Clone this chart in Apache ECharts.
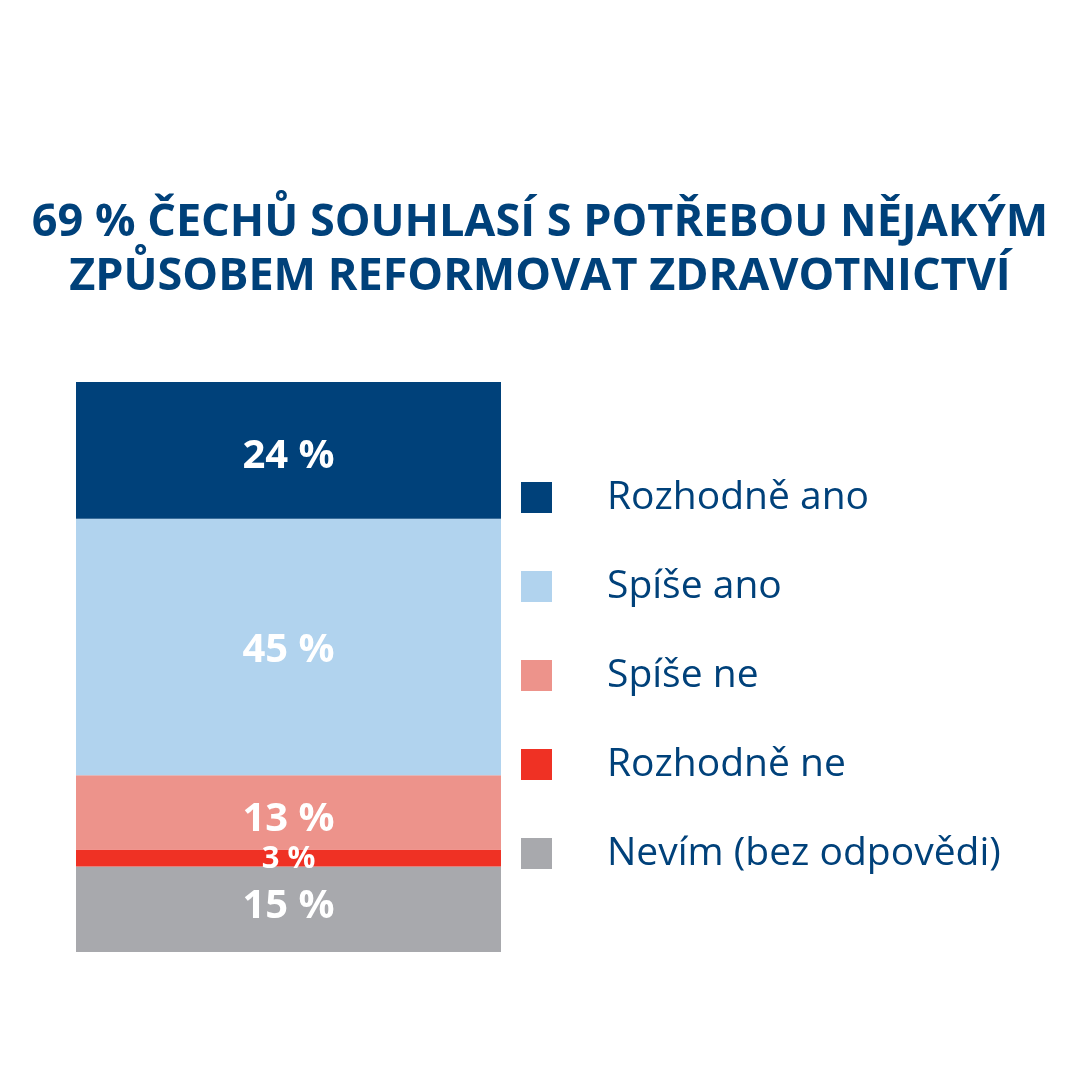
<!DOCTYPE html>
<html>
<head>
<meta charset="utf-8">
<script src="https://cdn.jsdelivr.net/npm/echarts@6/dist/echarts.min.js"></script>
<style>
  html, body { margin: 0; padding: 0; background: #fff; }
  #main { width: 1080px; height: 1080px; }
</style>
</head>
<body>
<div id="main"></div>
<script>
// data (stacked from the bottom up)
var categories = ['Celkem'];
var seriesNames = ['Nevím (bez odpovědi)', 'Rozhodně ne', 'Spíše ne', 'Spíše ano', 'Rozhodně ano'];
var seriesValues = [15, 3, 13, 45, 24];
var legendOrder = ['Rozhodně ano', 'Spíše ano', 'Spíše ne', 'Rozhodně ne', 'Nevím (bez odpovědi)'];
var colors = ['#a8a9ad', '#ef3124', '#ed938b', '#b1d3ee', '#00417a'];
var titleText = '69 % ČECHŮ SOUHLASÍ S POTŘEBOU NĚJAKÝM\nZPŮSOBEM REFORMOVAT ZDRAVOTNICTVÍ';

var blue = '#00417a';
var chart = echarts.init(document.getElementById('main'));

// label tweaks per segment
var labelSize = [40, 31, 40, 40, 40];
var labelOffset = [[0, -3], [0, 1], [0, 7], [0, 4], [0, 6]];

var series = seriesNames.map(function (name, i) {
    return {
        name: name,
        type: 'bar',
        stack: 'total',
        barWidth: '100%',
        data: [seriesValues[i]],
        itemStyle: { color: colors[i] },
        label: {
            show: true,
            position: 'inside',
            formatter: '{c} %',
            color: '#fff',
            fontWeight: 'bold',
            fontFamily: 'Open Sans',
            fontSize: labelSize[i],
            offset: labelOffset[i]
        }
    };
});

chart.setOption({
    animation: false,
    title: {
        text: titleText,
        left: 'center',
        top: 191,
        textStyle: {
            color: blue,
            fontFamily: 'Open Sans',
            fontWeight: 'bold',
            fontSize: 45,
            lineHeight: 54
        }
    },
    grid: { left: 76, right: 579, top: 382, bottom: 128 },
    xAxis: { type: 'category', data: categories, show: false },
    yAxis: { type: 'value', min: 0, max: 100, show: false },
    legend: {
        orient: 'vertical',
        left: 521,
        top: 478,
        padding: 0,
        data: legendOrder,
        icon: 'rect',
        itemWidth: 31,
        itemHeight: 31,
        itemGap: 50,
        selectedMode: false,
        textStyle: {
            color: blue,
            fontFamily: 'Open Sans',
            fontSize: 39,
            padding: [0, 0, 0, 50]
        }
    },
    series: series
});
</script>
</body>
</html>
